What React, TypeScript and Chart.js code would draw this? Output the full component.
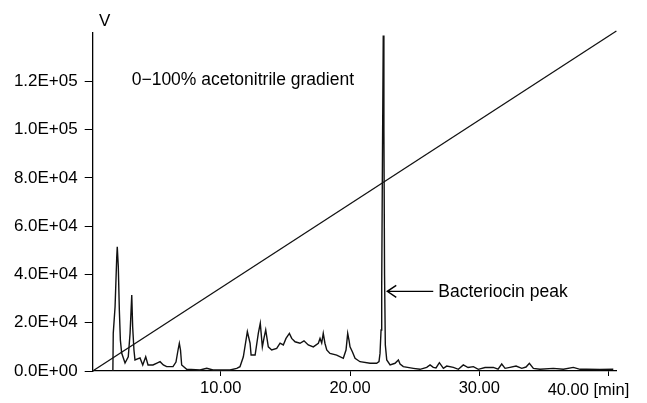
import React, { useEffect, useRef } from "react";
import { Chart, registerables } from "chart.js";

Chart.register(...registerables);

// Chromatogram (retention time in min, detector signal in V)
const times = [
  1.66, 1.69, 1.83, 1.96, 2.0, 2.08, 2.16, 2.24, 2.34, 2.47, 2.6, 2.85, 2.99, 3.12, 3.19, 3.29, 3.37,
  3.76, 3.97, 4.2, 4.38, 4.76, 5.07, 5.31, 5.56, 5.82, 6.31, 6.54, 6.7, 6.8, 6.89, 6.98, 7.37, 8.4,
  8.92, 9.4, 9.95, 10.72, 11.24, 11.49, 11.75, 12.06, 12.27, 12.35, 12.66, 12.91, 13.06, 13.22, 13.35,
  13.48, 13.68, 13.94, 14.33, 14.59, 14.84, 15.05, 15.31, 15.49, 15.75, 16.13, 16.44, 16.77, 17.16,
  17.55, 17.68, 17.81, 17.93, 18.06, 18.2, 18.45, 18.97, 19.48, 19.69, 19.82, 19.92, 20.0, 20.18,
  20.39, 20.77, 21.55, 22.06, 22.24, 22.32, 22.4, 22.45, 22.51, 22.57, 22.62, 22.67, 22.73, 22.84,
  23.1, 23.48, 23.74, 23.87, 24.12, 24.9, 25.41, 25.93, 26.19, 26.44, 26.65, 26.91, 27.22, 27.48,
  27.99, 28.38, 28.76, 29.13, 29.54, 29.92, 30.44, 31.08, 31.45, 31.73, 31.99, 32.37, 32.84, 33.28,
  33.61, 33.87, 34.18, 34.69, 35.72, 36.5, 37.27, 37.79, 38.3, 39.33, 40.36,
];
const signal = [
  0, 15700, 26600, 47300, 51500, 43200, 25250, 12800, 7450, 5400, 3300, 5900, 15600, 31500, 18300, 8700, 4550,
  5400, 2500, 5900, 2500, 2500, 3300, 3850, 2500, 1800, 1800, 3700, 8700, 11470, 8700, 2500, 700, 400,
  1100, 400, 400, 400, 1100, 1800, 5900, 16300, 11500, 6600, 6600, 15700, 19750, 10000, 13700,
  17000, 10000, 8700, 9400, 11500, 10800, 13500, 15600, 13500, 12100, 11500, 12500, 10800, 10000,
  11500, 13500, 11600, 15600, 11500, 8700, 7300, 6600, 5250, 8700, 15600, 12800, 10000, 8000,
  5250, 3850, 3200, 3200, 3850, 7300, 17000, 35000, 90000, 139000, 100000, 40000, 10800, 4550,
  2500, 3200, 4550, 2900, 1800, 1100, 700, 1500, 2500, 1500, 1250, 3450, 1100, 2050,
  1500, 700, 2500, 1450, 1800, 700, 1450, 1500, 800, 2900, 1100, 1500, 2050, 1100,
  1650, 3200, 1100, 700, 1100, 700, 1500, 700, 700, 600, 700,
];

// 0-100% acetonitrile gradient line
const gradientTimes = [0.1, 40.6];
const gradientValues = [0, 140800];

// Axis ticks
const xTicks = [10, 20, 30, 40];
const yTicks = [0, 20000, 40000, 60000, 80000, 100000, 120000];

const peakTime = 22.57;
const arrowLevel = 33000;

const FONT = "'Liberation Sans', Arial, sans-serif";

function sci(v: number): string {
  if (v === 0) return "0.0E+00";
  const e = Math.floor(Math.log10(v) + 1e-9);
  const m = v / Math.pow(10, e);
  return m.toFixed(1) + "E+" + String(e).padStart(2, "0");
}

const annotations = {
  id: "annotations",
  afterDraw(chart: any) {
    const ctx = chart.ctx;
    const xs = chart.scales.x;
    const ys = chart.scales.y;
    const area = chart.chartArea;
    ctx.save();
    ctx.fillStyle = "#000";
    ctx.strokeStyle = "#000";
    ctx.textBaseline = "middle";
    ctx.font = "17px " + FONT;
    // axis unit
    ctx.textAlign = "center";
    ctx.fillText("V", area.left + 12, 21);
    // gradient label
    ctx.font = "17.5px " + FONT;
    ctx.textAlign = "left";
    ctx.fillText("0\u2212100% acetonitrile gradient", area.left + 39, 80);
    // arrow to the bacteriocin peak
    const px = xs.getPixelForValue(peakTime) + 4;
    const py = ys.getPixelForValue(arrowLevel);
    ctx.lineWidth = 1.4;
    ctx.beginPath();
    ctx.moveTo(px + 46, py);
    ctx.lineTo(px, py);
    ctx.moveTo(px + 9, py - 6);
    ctx.lineTo(px, py);
    ctx.lineTo(px + 9, py + 6);
    ctx.stroke();
    ctx.fillText("Bacteriocin peak", px + 51, py + 1);
    // last x label with unit
    ctx.font = "16.5px " + FONT;
    ctx.textAlign = "left";
    ctx.fillText("40.00 [min]", xs.getPixelForValue(40) - 61, 390);
    ctx.restore();
  },
};

export default function App() {
  const ref = useRef<HTMLCanvasElement | null>(null);
  useEffect(() => {
    if (!ref.current) return;
    const chromData = times.map((t, i) => ({ x: t, y: signal[i] }));
    const gradData = gradientTimes.map((t, i) => ({ x: t, y: gradientValues[i] }));
    const chart = new Chart(ref.current, {
      type: "line",
      data: {
        datasets: [
          {
            data: chromData,
            borderColor: "#111",
            borderWidth: 1.4,
            pointRadius: 0,
            tension: 0,
          },
          {
            data: gradData,
            borderColor: "#111",
            borderWidth: 1.3,
            pointRadius: 0,
            tension: 0,
            clip: false as any,
          },
        ],
      },
      options: {
        animation: false,
        responsive: true,
        maintainAspectRatio: false,
        layout: { padding: { left: 0, top: 33, right: 30.6, bottom: 0 } },
        plugins: { legend: { display: false }, tooltip: { enabled: false } },
        scales: {
          x: {
            type: "linear",
            min: 0.1,
            max: 40.6,
            afterBuildTicks: (s: any) => {
              s.ticks = xTicks.map((v) => ({ value: v }));
            },
            afterFit: (s: any) => {
              s.height = 32;
            },
            grid: { drawOnChartArea: false, drawTicks: true, tickLength: 5, color: "#000", lineWidth: 1 },
            border: { display: true, color: "#000", width: 1.3 },
            ticks: {
              color: "#000",
              font: { family: FONT, size: 16.5 },
              padding: 3,
              maxRotation: 0,
              autoSkip: false,
              callback: (v: any) => (Number(v) === 40 ? "" : Number(v).toFixed(2)),
            },
          },
          y: {
            type: "linear",
            min: 0,
            max: 140000,
            afterBuildTicks: (s: any) => {
              s.ticks = yTicks.map((v) => ({ value: v }));
            },
            afterFit: (s: any) => {
              s.width = 92.7;
            },
            grid: { drawOnChartArea: false, drawTicks: true, tickLength: 8, color: "#000", lineWidth: 1 },
            border: { display: true, color: "#000", width: 1.3 },
            ticks: {
              color: "#000",
              font: { family: FONT, size: 17 },
              padding: 7,
              autoSkip: false,
              callback: (v: any) => sci(Number(v)),
            },
          },
        },
      },
      plugins: [annotations],
    });
    return () => chart.destroy();
  }, []);
  return (
    <div style={{ position: "absolute", left: 0, top: 0, width: 647, height: 403, background: "#fff" }}>
      <canvas ref={ref} />
    </div>
  );
}
